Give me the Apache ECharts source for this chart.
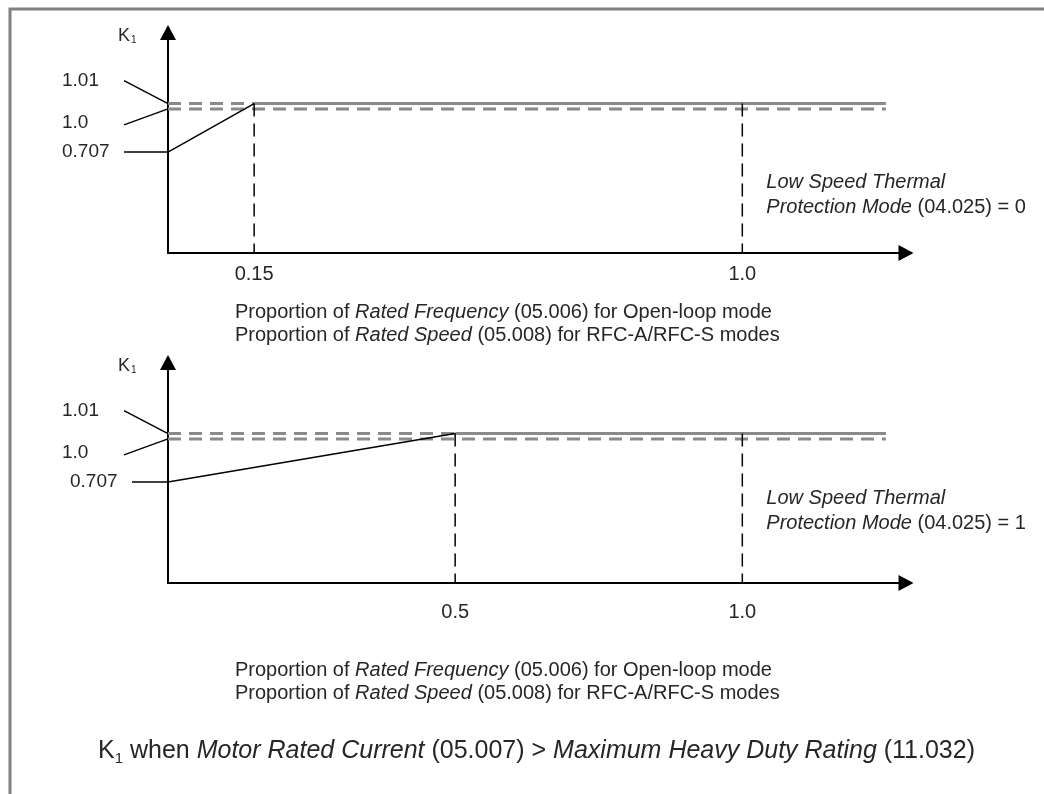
<!DOCTYPE html>
<html><head><meta charset="utf-8">
<script src="https://cdn.jsdelivr.net/npm/echarts@6/dist/echarts.min.js"></script>
<style>html,body{margin:0;padding:0;background:#fff}#c{width:1044px;height:794px}</style>
</head><body><div id="c"></div>
<script>
// ---------- data ----------
const levelValues = [1.01, 1.0, 0.707];          // K1 levels: max, rated, zero-speed start
const levelLabels = ['1.01', '1.0', '0.707'];
const kneePoints = [0.15, 0.5];                  // speed where K1 reaches 1.01 (mode 0, mode 1)
const ratedSpeed = 1.0;
const lineEnd = 1.25;                            // horizontal level lines end
const tickValues = [[0.15, 1.0], [0.5, 1.0]];
const tickLabels = [['0.15', '1.0'], ['0.5', '1.0']];
const modeValues = ['0', '1'];
const axisTitle1 = ['Proportion of ', 'Rated Frequency', ' (05.006) for Open-loop mode'];
const axisTitle2 = ['Proportion of ', 'Rated Speed', ' (05.008) for RFC-A/RFC-S modes'];
const captionParts = ['K', '1', ' when ', 'Motor Rated Current', ' (05.007) > ', 'Maximum Heavy Duty Rating', ' (11.032)'];

// ---------- style ----------
const FONT = '"Liberation Sans", Arial, sans-serif';
const INK = '#262626';
const GRAY = '#8a8a8a';
const DASH = [13, 8];

const chart = echarts.init(document.getElementById('c'));

const tickMargin = [11, 19];
const grids = [], xAxes = [], yAxes = [], series = [];
for (let g = 0; g < 2; g++) {
  grids.push({ left: 168, top: 32.5 + g * 330, width: 738, height: 220.5 });
  xAxes.push({
    gridIndex: g, type: 'value', min: 0, max: 1.285,
    axisLine: { onZero: false, symbol: ['none', 'triangle'], symbolSize: [16, 15], lineStyle: { color: '#000', width: 2 } },
    axisTick: { show: false }, splitLine: { show: false },
    axisLabel: {
      customValues: tickValues[g],
      formatter: v => { const i = tickValues[g].indexOf(v); return i >= 0 ? tickLabels[g][i] : ''; },
      margin: tickMargin[g], fontSize: 20, color: INK, fontFamily: FONT
    }
  });
  // main K1 axis (drawn)
  yAxes.push({
    gridIndex: g, type: 'value', min: 0, max: 1.53,
    axisLine: { show: true, onZero: false, symbol: ['none', 'triangle'], symbolSize: [16, 15], lineStyle: { color: '#000', width: 2 } },
    axisTick: { show: false }, axisLabel: { show: false }, splitLine: { show: false }
  });
  // schematic K1 axis for the 1.01 limit (drawing exaggerates the 1.0/1.01 gap)
  yAxes.push({ gridIndex: g, type: 'value', min: 0.076, max: 1.454, show: false, splitLine: { show: false } });

  const yMain = 2 * g, yLim = 2 * g + 1, knee = kneePoints[g];
  const base = { type: 'line', xAxisIndex: g, symbol: 'none', silent: true, animation: false, clip: true };
  series.push(
    Object.assign({}, base, { yAxisIndex: yMain, z: 2, data: [[0, levelValues[1]], [lineEnd, levelValues[1]]], lineStyle: { color: GRAY, width: 3, type: DASH } }),
    Object.assign({}, base, { yAxisIndex: yLim, z: 2, data: [[0, levelValues[0]], [knee, levelValues[0]]], lineStyle: { color: GRAY, width: 3, type: DASH } }),
    Object.assign({}, base, { yAxisIndex: yLim, z: 2, data: [[knee, levelValues[0]], [lineEnd, levelValues[0]]], lineStyle: { color: GRAY, width: 3 } }),
    Object.assign({}, base, { yAxisIndex: yLim, z: 3, data: [[0, levelValues[2]], [knee, levelValues[0]]], lineStyle: { color: '#000', width: 1.5 } }),
    Object.assign({}, base, { yAxisIndex: yLim, z: 3, data: [[knee, levelValues[0]], [knee, 0]], lineStyle: { color: '#000', width: 1.5, type: [13, 7] } }),
    Object.assign({}, base, { yAxisIndex: yLim, z: 3, data: [[ratedSpeed, levelValues[0]], [ratedSpeed, 0]], lineStyle: { color: '#000', width: 1.5, type: [13, 7] } })
  );
}

chart.setOption({
  animation: false,
  backgroundColor: '#fff',
  grid: grids, xAxis: xAxes, yAxis: yAxes, series: series
});

// ---------- annotations positioned from the axes ----------
function px(g, yIdx, x, y) { return chart.convertToPixel({ xAxisIndex: g, yAxisIndex: yIdx }, [x, y]); }
const textStyle = (extra) => Object.assign({ fill: INK, fontFamily: FONT, fontSize: 19 }, extra);
const els = [];
els.push({ type: 'polyline', silent: true, shape: { points: [[10, 794], [10, 9], [1044, 9]] }, style: { stroke: '#808080', lineWidth: 3, fill: null } });

const notesOffset = [-71, -84.5];   // first note line centre, relative to x axis
const titleOffset = [59, 87];       // first title line centre, relative to x axis
const startLeaderDx = [-44, -36];
for (let g = 0; g < 2; g++) {
  const a101 = px(g, 2 * g + 1, 0, levelValues[0]);
  const a100 = px(g, 2 * g, 0, levelValues[1]);
  const a707 = px(g, 2 * g + 1, 0, levelValues[2]);
  const top = px(g, 2 * g, 0, 1.53);
  const origin = px(g, 2 * g, 0, 0);
  const rated = px(g, 2 * g, ratedSpeed, 0);
  const leader = (p, dx, dy) => ({ type: 'line', silent: true, shape: { x1: p[0] + dx, y1: p[1] + dy, x2: p[0], y2: p[1] }, style: { stroke: '#000', lineWidth: 1.5 } });
  els.push(leader(a101, -44, -23), leader(a100, -44, 16), leader(a707, startLeaderDx[g], 0));
  const lbl = (txt, x, y) => ({ type: 'text', silent: true, x: x, y: y, style: textStyle({ text: txt, align: 'left', verticalAlign: 'middle', textAlign: 'left', textVerticalAlign: 'middle' }) });
  els.push(lbl(levelLabels[0], a101[0] - 106, a101[1] - 23));
  els.push(lbl(levelLabels[1], a100[0] - 106, a100[1] + 14));
  els.push(lbl(levelLabels[2], a707[0] - 106 + (startLeaderDx[g] + 44), a707[1]));
  // K1 axis name
  els.push({ type: 'text', silent: true, x: top[0] - 50, y: top[1] + 4, style: textStyle({ text: 'K', fontSize: 18, align: 'left', verticalAlign: 'middle', textAlign: 'left', textVerticalAlign: 'middle' }) });
  els.push({ type: 'text', silent: true, x: top[0] - 37, y: top[1] + 8, style: textStyle({ text: '1', fontSize: 10, align: 'left', verticalAlign: 'middle', textAlign: 'left', textVerticalAlign: 'middle' }) });
  // mode note
  els.push({
    type: 'text', silent: true, x: rated[0] + 24, y: origin[1] + notesOffset[g] - 12.5,
    style: textStyle({
      text: '{i|Low Speed Thermal}\n{i|Protection Mode}{n| (04.025) = ' + modeValues[g] + '}',
      align: 'left', verticalAlign: 'top', textAlign: 'left', textVerticalAlign: 'top', lineHeight: 25,
      rich: { i: { fontStyle: 'italic', fontSize: 20, fontFamily: FONT, fill: INK, lineHeight: 25 }, n: { fontSize: 20, fontFamily: FONT, fill: INK, lineHeight: 25 } }
    })
  });
  // x-axis title
  els.push({
    type: 'text', silent: true, x: 235, y: origin[1] + titleOffset[g] - 11.5,
    style: textStyle({
      text: '{n|' + axisTitle1[0] + '}{i|' + axisTitle1[1] + '}{n|' + axisTitle1[2] + '}\n{n|' + axisTitle2[0] + '}{i|' + axisTitle2[1] + '}{n|' + axisTitle2[2] + '}',
      align: 'left', verticalAlign: 'top', textAlign: 'left', textVerticalAlign: 'top', lineHeight: 23,
      rich: { i: { fontStyle: 'italic', fontSize: 20, fontFamily: FONT, fill: INK, lineHeight: 23 }, n: { fontSize: 20, fontFamily: FONT, fill: INK, lineHeight: 23 } }
    })
  });
}
// caption
const cp = captionParts;
els.push({
  type: 'text', silent: true, x: 536.5, y: 751.5,
  style: textStyle({
    text: '{n|' + cp[0] + '}{s|' + cp[1] + '}{n|' + cp[2] + '}{i|' + cp[3] + '}{n|' + cp[4] + '}{i|' + cp[5] + '}{n|' + cp[6] + '}',
    align: 'center', verticalAlign: 'middle', textAlign: 'center', textVerticalAlign: 'middle', lineHeight: 30,
    rich: {
      n: { fontSize: 25, fontFamily: FONT, fill: INK, lineHeight: 30 },
      i: { fontSize: 25, fontStyle: 'italic', fontFamily: FONT, fill: INK, lineHeight: 30 },
      s: { fontSize: 15, fontFamily: FONT, fill: INK, verticalAlign: 'bottom', lineHeight: 20 }
    }
  })
});
chart.setOption({ graphic: { elements: els } });
</script>
</body></html>
